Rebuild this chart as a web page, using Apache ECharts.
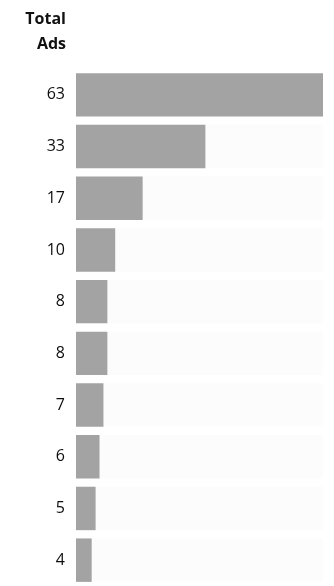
<!DOCTYPE html>
<html>
<head>
<meta charset="utf-8">
<script src="https://cdn.jsdelivr.net/npm/echarts@6/dist/echarts.min.js"></script>
<style>
  html, body { margin: 0; padding: 0; background: #ffffff; }
  #chart { width: 334px; height: 586px; }
</style>
</head>
<body>
<div id="chart"></div>
<script>
// Ad counts per row, top to bottom
const rowLabels = ['63', '33', '17', '10', '8', '8', '7', '6', '5', '4'];
const totalAds = [63, 33, 17, 10, 8, 8, 7, 6, 5, 4];
const headerLines = ['Total', 'Ads'];

const chart = echarts.init(document.getElementById('chart'), null, { renderer: 'canvas' });

chart.setOption({
  backgroundColor: '#ffffff',
  animation: false,
  graphic: headerLines.map((line, i) => ({
    type: 'text',
    x: 66,
    y: 19 + i * 25,
    style: {
      text: line,
      textAlign: 'right',
      textVerticalAlign: 'middle',
      fontFamily: 'Open Sans',
      fontWeight: 'bold',
      fontSize: 16,
      fill: '#111111'
    }
  })),
  grid: { left: 76, right: 11, top: 69, height: 523, containLabel: false },
  xAxis: {
    type: 'value',
    min: 0,
    max: 63,
    show: false
  },
  yAxis: {
    type: 'category',
    inverse: true,
    data: rowLabels,
    axisLine: { show: false },
    axisTick: { show: false },
    axisLabel: {
      margin: 11,
      fontFamily: 'Open Sans',
      fontSize: 16,
      color: '#0d0d0d'
    }
  },
  series: [{
    type: 'bar',
    data: totalAds,
    barCategoryGap: '16%',
    showBackground: true,
    backgroundStyle: { color: '#fcfcfc' },
    itemStyle: { color: '#a3a3a3' }
  }]
});
</script>
</body>
</html>
